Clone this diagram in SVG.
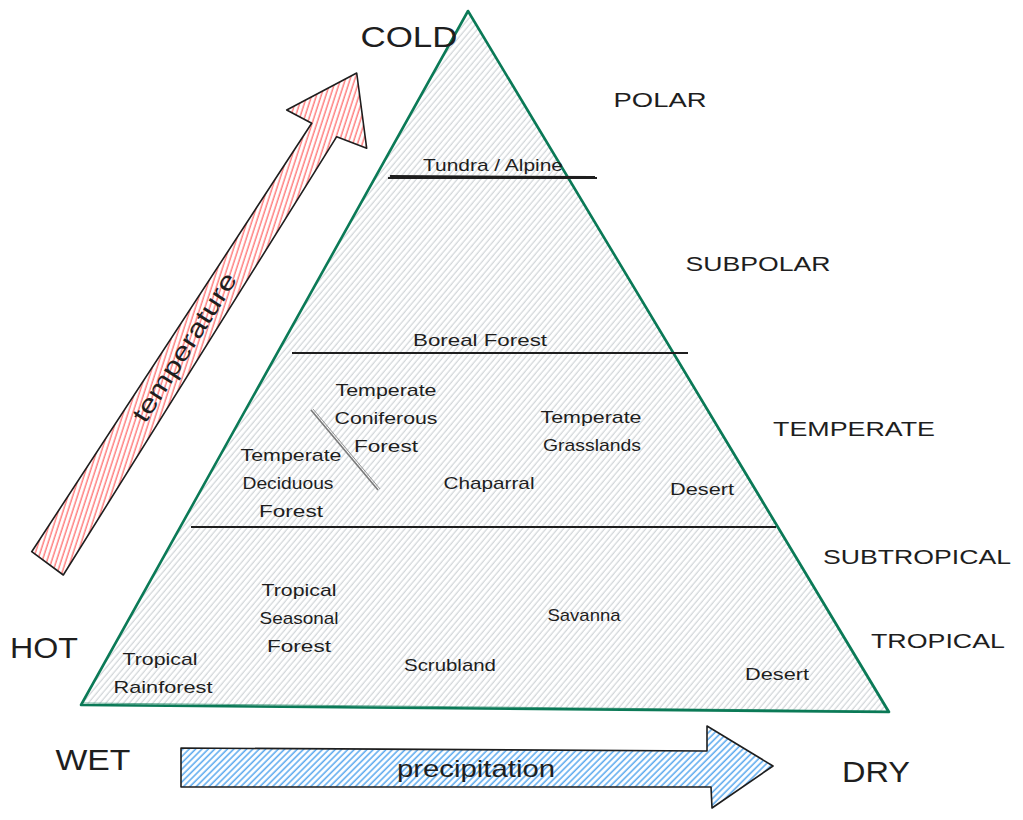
<svg xmlns="http://www.w3.org/2000/svg" width="1023" height="820" viewBox="0 0 1023 820">
<defs>
<pattern id="hatchGray" width="4.5" height="4.5" patternUnits="userSpaceOnUse" patternTransform="rotate(40)">
<line x1="2" y1="0" x2="2" y2="4.5" stroke="#c6cbd0" stroke-width="1"/>
</pattern>
<pattern id="hatchRed" width="4.5" height="4.5" patternUnits="userSpaceOnUse" patternTransform="rotate(18)">
<line x1="2" y1="0" x2="2" y2="4.5" stroke="#ff8080" stroke-width="1.5"/>
</pattern>
<pattern id="hatchBlue" width="4.5" height="4.5" patternUnits="userSpaceOnUse" patternTransform="rotate(45)">
<line x1="2" y1="0" x2="2" y2="4.5" stroke="#5eabee" stroke-width="1.6"/>
</pattern>
<style>
text{font-family:"Liberation Sans",Arial,sans-serif;fill:#1e1e1e;text-anchor:middle;dominant-baseline:central}
.big{font-size:29px}
.zone{font-size:21px}
.bio{font-size:17px}
.band{stroke:#1e1e1e;stroke-width:1.8;fill:none}
.arrow{stroke:#1e1e1e;stroke-width:1.6;stroke-linejoin:round}
</style>
</defs>
<rect width="1023" height="820" fill="#ffffff"/>

<g id="pyramid">
<path d="M468 11 L889 712 L81 705 Z" fill="url(#hatchGray)" stroke="#0b7a57" stroke-width="2.6" stroke-linejoin="round"/>
<path d="M469 13 L887 711 L83 703" fill="none" stroke="#0b7a57" stroke-width="1" opacity="0.6"/>
</g>

<g id="bands">
<path class="band" d="M388 178 L597 178"/>
<path class="band" d="M390 176 L595 177" stroke-width="0.8"/>
<path class="band" d="M292 353 L688 353"/>
<path class="band" d="M191 527 L776 527"/>
</g>

<g id="divider">
<path d="M311 410 L378 490" stroke="#7a7a7a" stroke-width="1.6" fill="none"/>
<path d="M313 409 L380 489" stroke="#7a7a7a" stroke-width="0.8" fill="none"/>
</g>

<g id="temperature-arrow">
<polygon class="arrow" points="31.7,551.7 311.7,123.3 286.7,110 356.7,73 366.7,148.3 336.7,136.7 63.3,575" fill="url(#hatchRed)"/>
<text transform="translate(184 347) rotate(-57.4)" font-size="25" textLength="172" lengthAdjust="spacingAndGlyphs">temperature</text>
</g>

<g id="precipitation-arrow">
<polygon class="arrow" points="181,748 707,751 707,726 773,766 712,808 711,787 181,787" fill="url(#hatchBlue)"/>
<text x="476" y="768" font-size="24" textLength="158" lengthAdjust="spacingAndGlyphs">precipitation</text>
</g>

<g id="axis-labels">
<text class="big" x="409" y="37" textLength="97" lengthAdjust="spacingAndGlyphs">COLD</text>
<text class="big" x="44" y="648" textLength="68" lengthAdjust="spacingAndGlyphs">HOT</text>
<text class="big" x="93" y="760" textLength="75" lengthAdjust="spacingAndGlyphs">WET</text>
<text class="big" x="876" y="772" textLength="68" lengthAdjust="spacingAndGlyphs">DRY</text>
</g>

<g id="zone-labels">
<text class="zone" x="660" y="99" textLength="93" lengthAdjust="spacingAndGlyphs">POLAR</text>
<text class="zone" x="758" y="263" textLength="145" lengthAdjust="spacingAndGlyphs">SUBPOLAR</text>
<text class="zone" x="854" y="428" textLength="162" lengthAdjust="spacingAndGlyphs">TEMPERATE</text>
<text class="zone" x="917" y="556" textLength="188" lengthAdjust="spacingAndGlyphs">SUBTROPICAL</text>
<text class="zone" x="938" y="640" textLength="134" lengthAdjust="spacingAndGlyphs">TROPICAL</text>
</g>

<g id="tundra"><text class="bio" x="493" y="165" textLength="140" lengthAdjust="spacingAndGlyphs">Tundra / Alpine</text></g>
<g id="boreal"><text class="bio" x="480" y="340" textLength="134" lengthAdjust="spacingAndGlyphs">Boreal Forest</text></g>
<g id="temperate-coniferous">
<text class="bio" x="386" y="390" textLength="101" lengthAdjust="spacingAndGlyphs">Temperate</text>
<text class="bio" x="386" y="418" textLength="103" lengthAdjust="spacingAndGlyphs">Coniferous</text>
<text class="bio" x="386" y="446" textLength="64" lengthAdjust="spacingAndGlyphs">Forest</text>
</g>
<g id="temperate-deciduous">
<text class="bio" x="291" y="455" textLength="101" lengthAdjust="spacingAndGlyphs">Temperate</text>
<text class="bio" x="288" y="483" textLength="91" lengthAdjust="spacingAndGlyphs">Deciduous</text>
<text class="bio" x="291" y="511" textLength="64" lengthAdjust="spacingAndGlyphs">Forest</text>
</g>
<g id="temperate-grasslands">
<text class="bio" x="591" y="417" textLength="101" lengthAdjust="spacingAndGlyphs">Temperate</text>
<text class="bio" x="592" y="445" textLength="98" lengthAdjust="spacingAndGlyphs">Grasslands</text>
</g>
<g id="chaparral"><text class="bio" x="489" y="483" textLength="91" lengthAdjust="spacingAndGlyphs">Chaparral</text></g>
<g id="temperate-desert"><text class="bio" x="702" y="489" textLength="64" lengthAdjust="spacingAndGlyphs">Desert</text></g>
<g id="tropical-seasonal">
<text class="bio" x="299" y="590" textLength="75" lengthAdjust="spacingAndGlyphs">Tropical</text>
<text class="bio" x="299" y="618" textLength="79" lengthAdjust="spacingAndGlyphs">Seasonal</text>
<text class="bio" x="299" y="646" textLength="64" lengthAdjust="spacingAndGlyphs">Forest</text>
</g>
<g id="savanna"><text class="bio" x="584" y="615" textLength="73" lengthAdjust="spacingAndGlyphs">Savanna</text></g>
<g id="scrubland"><text class="bio" x="450" y="665" textLength="92" lengthAdjust="spacingAndGlyphs">Scrubland</text></g>
<g id="tropical-rainforest">
<text class="bio" x="160" y="659" textLength="75" lengthAdjust="spacingAndGlyphs">Tropical</text>
<text class="bio" x="163" y="687" textLength="99" lengthAdjust="spacingAndGlyphs">Rainforest</text>
</g>
<g id="tropical-desert"><text class="bio" x="777" y="674" textLength="64" lengthAdjust="spacingAndGlyphs">Desert</text></g>

<g id="connectors"></g>
</svg>
